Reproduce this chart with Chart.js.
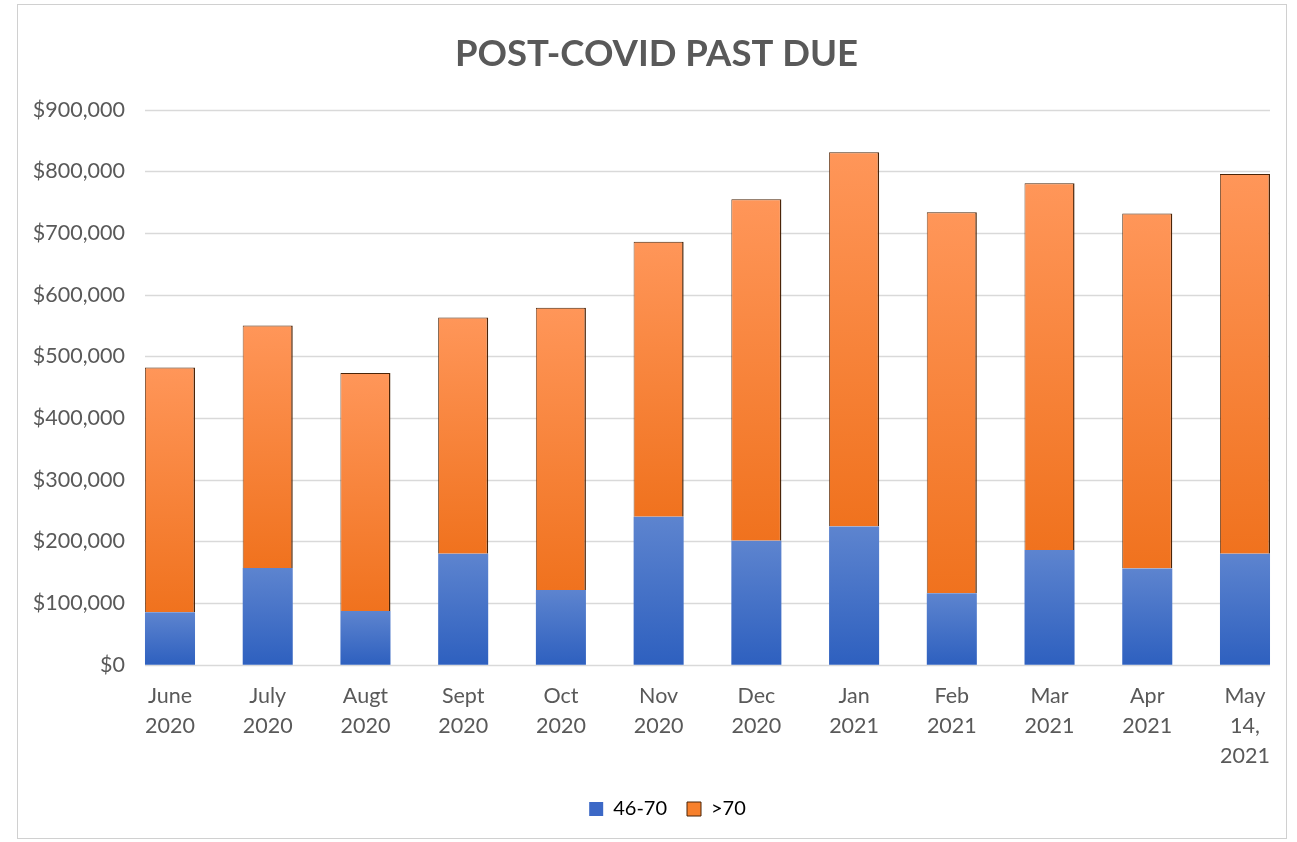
<!DOCTYPE html>
<html><head><meta charset="utf-8">
<script src="https://cdn.jsdelivr.net/npm/chart.js@4"></script>
<style>
html,body{margin:0;padding:0;background:#fff;}
#frame{position:absolute;left:17px;top:4px;width:1270px;height:835px;border:1.5px solid #d0d0d0;box-sizing:border-box;}
#wrap{position:absolute;left:0;top:0;width:1297px;height:842px;}
</style></head>
<body>
<div id="frame"></div>
<div id="wrap"><canvas id="c" width="1297" height="842"></canvas></div>
<script>
const categories = [["June","2020"],["July","2020"],["Augt","2020"],["Sept","2020"],["Oct","2020"],["Nov","2020"],["Dec","2020"],["Jan","2021"],["Feb","2021"],["Mar","2021"],["Apr","2021"],["May","14,","2021"]];
const seriesNames = ["46-70", ">70"];
const pastDue46to70 = [85000, 157000, 87000, 180000, 121000, 240000, 201000, 224000, 116000, 186000, 156000, 180000];
const totals = [482000, 550000, 473000, 563000, 579000, 686000, 755000, 831000, 734000, 781000, 732000, 796000];
const pastDueOver70 = totals.map((t, i) => t - pastDue46to70[i]);
const yTicks = [0, 100000, 200000, 300000, 400000, 500000, 600000, 700000, 800000, 900000];

const FONT = "Lato, 'Open Sans', sans-serif";
const BAR_PCT = 0.512;

function grad(ctx, lowVals, highVals, topColor, botColor, fallback) {
  const chart = ctx.chart;
  if (!chart.chartArea || !chart.scales.y || ctx.dataIndex === undefined) return fallback;
  const y = chart.scales.y;
  const i = ctx.dataIndex;
  const y0 = y.getPixelForValue(lowVals[i]);
  const y1 = y.getPixelForValue(highVals[i]);
  if (!isFinite(y0) || !isFinite(y1) || y0 === y1) return fallback;
  const g = chart.ctx.createLinearGradient(0, y1, 0, y0);
  g.addColorStop(0, topColor);
  g.addColorStop(1, botColor);
  return g;
}
const zeros = pastDue46to70.map(() => 0);

// horizontal gridlines spanning the full width of the outer bars (Excel style)
const gridPlugin = {
  id: 'wideGrid',
  afterLayout(chart) {
    // centre title and legend on the plot region like the original
    const shiftL = 35, shiftT = 24;
    if (chart.legend) { chart.legend.left += shiftL; chart.legend.right += shiftL; }
    if (chart.titleBlock) { chart.titleBlock.left += shiftT; chart.titleBlock.right += shiftT; }
  },
  beforeDatasetsDraw(chart) {
    const x = chart.scales.x, y = chart.scales.y, c = chart.ctx;
    const ext = (x.getPixelForValue(1) - x.getPixelForValue(0)) * BAR_PCT / 2;
    const l = chart.chartArea.left - ext, r = chart.chartArea.right + ext;
    c.save();
    c.strokeStyle = '#d9d9d9';
    c.lineWidth = 1.5;
    y.ticks.forEach(t => {
      const py = Math.round(y.getPixelForValue(t.value)) + 0.5;
      c.beginPath(); c.moveTo(l, py); c.lineTo(r, py); c.stroke();
    });
    c.restore();
  }
};

new Chart(document.getElementById('c'), {
  type: 'bar',
  data: {
    labels: categories,
    datasets: [
      {
        label: seriesNames[0],
        data: pastDue46to70,
        backgroundColor: (ctx) => grad(ctx, zeros, pastDue46to70, '#5d84cf', '#2e60bf', '#4472c4'),
        borderWidth: 0,
        barPercentage: BAR_PCT,
        categoryPercentage: 1.0,
        clip: false
      },
      {
        label: seriesNames[1],
        data: pastDueOver70,
        backgroundColor: (ctx) => grad(ctx, pastDue46to70, totals, '#ff9659', '#f0721e', '#f58232'),
        borderColor: '#4a2408',
        borderWidth: {top: 1, right: 1.5, left: 0.8, bottom: 0},
        borderSkipped: false,
        barPercentage: BAR_PCT,
        categoryPercentage: 1.0,
        clip: false
      }
    ]
  },
  plugins: [gridPlugin],
  options: {
    responsive: false,
    animation: false,
    devicePixelRatio: 1,
    layout: { padding: { left: 20, right: 52, top: 22, bottom: 13 } },
    plugins: {
      title: {
        display: true,
        text: 'POST-COVID PAST DUE',
        color: '#595959',
        font: { family: FONT, size: 36.5, weight: 'bold' },
        padding: { top: 10, bottom: 34 }
      },
      legend: {
        position: 'bottom',
        labels: {
          color: '#595959',
          font: { family: FONT, size: 20 },
          boxWidth: 14,
          boxHeight: 14,
          padding: 20,
          generateLabels: (chart) => [
            { text: seriesNames[0], fillStyle: '#3c68c6', strokeStyle: '#3c68c6', lineWidth: 0, datasetIndex: 0 },
            { text: seriesNames[1], fillStyle: '#f7802c', strokeStyle: '#4a2408', lineWidth: 1, datasetIndex: 1 }
          ]
        }
      },
      tooltip: { enabled: false }
    },
    scales: {
      x: {
        stacked: true,
        offset: false,
        grid: { display: false },
        border: { display: false },
        ticks: { color: '#595959', font: { family: FONT, size: 21.5, lineHeight: 1.4 }, maxRotation: 0, autoSkip: false, padding: 8 }
      },
      y: {
        stacked: true,
        min: 0,
        max: 900000,
        afterBuildTicks: (axis) => { axis.ticks = yTicks.map(v => ({ value: v })); },
        afterFit: (axis) => { axis.width = 150; },
        grid: { display: false },
        border: { display: false },
        ticks: {
          color: '#595959',
          font: { family: FONT, size: 21.5 },
          padding: 37,
          callback: (v) => '$' + Number(v).toLocaleString('en-US')
        }
      }
    }
  }
});
</script>
</body></html>
